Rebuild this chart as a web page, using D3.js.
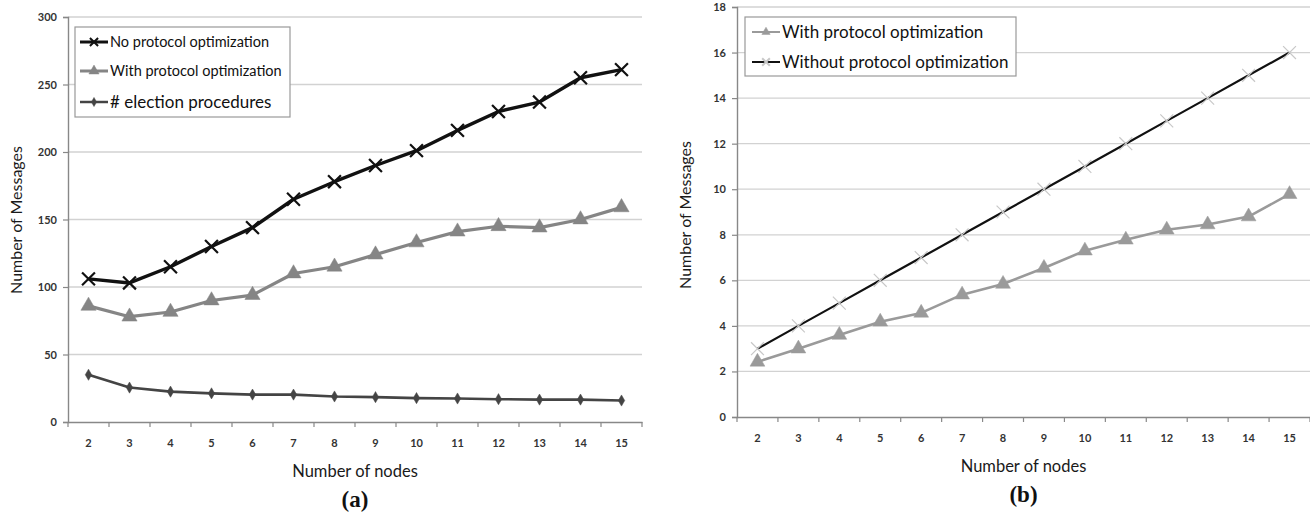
<!DOCTYPE html>
<html><head><meta charset="utf-8">
<script src="https://cdn.jsdelivr.net/npm/d3@7"></script>
<style>body{margin:0;background:#fff}svg{display:block}</style>
</head><body>
<svg id="c" width="1310" height="513"></svg>
<script>
const nodes = [2,3,4,5,6,7,8,9,10,11,12,13,14,15];
// Chart (a)
const aNoOpt = [106,103,115,130,144,165,178,190,201,216,230,237,255,261];
const aWithOpt = [86,78,81.5,90,94,110,115,124,133,141,145,144,150,159];
const aElection = [35,25.5,22.5,21.2,20.3,20.3,18.9,18.4,17.7,17.4,16.9,16.6,16.6,15.9];
const aTicks = [0,50,100,150,200,250,300];
// Chart (b)
const bWithOpt = [2.42,3.0,3.6,4.18,4.57,5.37,5.84,6.54,7.3,7.78,8.22,8.45,8.8,9.78];
const bWithoutOpt = [3,4,5,6,7,8,9,10,11,12,13,14,15,16];
const bTicks = [0,2,4,6,8,10,12,14,16,18];

const svg = d3.select("#c");
const font = "Lato, 'Open Sans', sans-serif";

function drawPanel(cfg){
  const g = svg.append("g");
  const x = d3.scaleBand().domain(nodes).range([cfg.x0, cfg.x1]);
  const y = d3.scaleLinear().domain([0, cfg.ymax]).range([cfg.y0, cfg.y1]);
  g.append("g").selectAll("line").data(cfg.ticks.filter(t=>t>0)).join("line")
    .attr("x1", cfg.x0).attr("x2", cfg.x1)
    .attr("y1", d=>y(d)).attr("y2", d=>y(d))
    .attr("stroke", "#d2d2d2").attr("stroke-width", 1.3);
  const ya = g.append("g").attr("transform", `translate(${cfg.x0},0)`)
    .call(d3.axisLeft(y).tickValues(cfg.ticks).tickSize(5).tickPadding(6));
  ya.select(".domain").attr("stroke", "#888").attr("stroke-width", 1.4);
  ya.selectAll(".tick line").attr("stroke", "#888").attr("stroke-width", 1.2);
  ya.selectAll("text").attr("font-family", font).attr("font-weight", "bold")
    .attr("font-size", 11).attr("fill", "#333");
  const xa = g.append("g").attr("transform", `translate(0,${cfg.y0})`)
    .call(d3.axisBottom(x).tickSize(0).tickPadding(17));
  xa.select(".domain").attr("stroke", "#888").attr("stroke-width", 1.4);
  xa.selectAll("text").attr("font-family", font).attr("font-weight", "bold")
    .attr("font-size", 11).attr("fill", "#333");
  const bounds = nodes.map(n=>x(n)).concat([cfg.x1]);
  g.append("g").selectAll("line").data(bounds).join("line")
    .attr("x1", d=>d).attr("x2", d=>d).attr("y1", cfg.y0).attr("y2", cfg.y0+5)
    .attr("stroke", "#888").attr("stroke-width", 1.2);
  g.append("text").attr("x", (cfg.x0+cfg.x1)/2).attr("y", cfg.y0+cfg.xlOff)
    .attr("text-anchor", "middle").attr("font-family", font)
    .attr("font-size", 16.5).attr("fill", "#1a1a1a").text("Number of nodes");
  g.append("text").attr("x", (cfg.x0+cfg.x1)/2).attr("y", cfg.y0+cfg.tagOff)
    .attr("text-anchor", "middle").attr("font-family", "'Liberation Serif', serif")
    .attr("font-weight", "bold").attr("font-size", 23).attr("fill", "#111").text(cfg.tag);
  g.append("text").attr("transform", `translate(${cfg.ylx},${cfg.ylc}) rotate(-90)`)
    .attr("text-anchor", "middle").attr("font-family", font)
    .attr("font-size", 16).attr("fill", "#1a1a1a").text("Number of Messages");
  return {g, x, y};
}

const symbols = {cross: d3.symbolX, tri: d3.symbolTriangle, dia: d3.symbolDiamond};

function series(p, vals, color, width, marker, mcolor, msize, mstroke){
  const cx = d=>p.x(d[0]) + p.x.bandwidth()/2;
  const pts = nodes.map((n,i)=>[n, vals[i]]);
  const line = d3.line().x(cx).y(d=>p.y(d[1]));
  p.g.append("path").attr("d", line(pts)).attr("fill","none")
    .attr("stroke", color).attr("stroke-width", width).attr("stroke-linejoin","round");
  p.g.append("g").selectAll("path").data(pts).join("path")
    .attr("transform", d=>`translate(${cx(d)},${p.y(d[1])})`)
    .attr("d", d3.symbol(symbols[marker], msize))
    .attr("fill", marker==="cross" ? "none" : mcolor)
    .attr("stroke", mcolor).attr("stroke-width", marker==="cross" ? mstroke : 0.5);
}

function legend(items, bx, by, bw, bh){
  const g = svg.append("g");
  g.append("rect").attr("x", bx).attr("y", by).attr("width", bw).attr("height", bh)
    .attr("fill", "#fff").attr("stroke", "#999").attr("stroke-width", 1.2);
  items.forEach(it=>{
    g.append("line").attr("x1", it.lx).attr("x2", it.lx+28).attr("y1", it.y).attr("y2", it.y)
      .attr("stroke", it.color).attr("stroke-width", it.width);
    g.append("path").attr("transform", `translate(${it.lx+14},${it.y})`)
      .attr("d", d3.symbol(symbols[it.marker], it.msize))
      .attr("fill", it.marker==="cross" ? "none" : it.mcolor)
      .attr("stroke", it.mcolor).attr("stroke-width", it.marker==="cross" ? 2 : 0.5);
    g.append("text").attr("x", it.lx+30).attr("y", it.y+it.fs*0.36)
      .attr("font-family", font).attr("font-size", it.fs).attr("fill", "#111")
      .text(it.label);
  });
}

// Panel (a)
const pa = drawPanel({x0:68, x1:642, y0:422, y1:17, ymax:300, ticks:aTicks, tag:"(a)",
  ylx:22, ylc:220, xlOff:55, tagOff:85});
series(pa, aElection, "#444", 2.6, "dia", "#444", 36);
series(pa, aWithOpt, "#858585", 3.2, "tri", "#858585", 100);
series(pa, aNoOpt, "#111", 3.4, "cross", "#111", 110, 2.2);
legend([
  {label:"No protocol optimization", lx:80, y:42, color:"#111", width:3, marker:"cross", mcolor:"#111", msize:45, fs:14.5},
  {label:"With protocol optimization", lx:80, y:71, color:"#858585", width:3, marker:"tri", mcolor:"#858585", msize:45, fs:14.5},
  {label:"# election procedures", lx:80, y:102, color:"#444", width:2.5, marker:"dia", mcolor:"#444", msize:24, fs:17}
], 75, 27, 215, 90);

// Panel (b)
const pb = drawPanel({x0:737, x1:1310, y0:417, y1:7, ymax:18, ticks:bTicks, tag:"(b)",
  ylx:691, ylc:215, xlOff:55, tagOff:85});
series(pb, bWithOpt, "#9a9a9a", 2.6, "tri", "#9a9a9a", 95);
series(pb, bWithoutOpt, "#111", 2.2, "cross", "#c8c8c8", 110, 1.2);
legend([
  {label:"With protocol optimization", lx:752, y:32, color:"#9a9a9a", width:2, marker:"tri", mcolor:"#9a9a9a", msize:30, fs:17},
  {label:"Without protocol optimization", lx:752, y:62, color:"#111", width:2, marker:"cross", mcolor:"#c8c8c8", msize:40, fs:17}
], 745, 17, 271, 59);
</script>
</body></html>
